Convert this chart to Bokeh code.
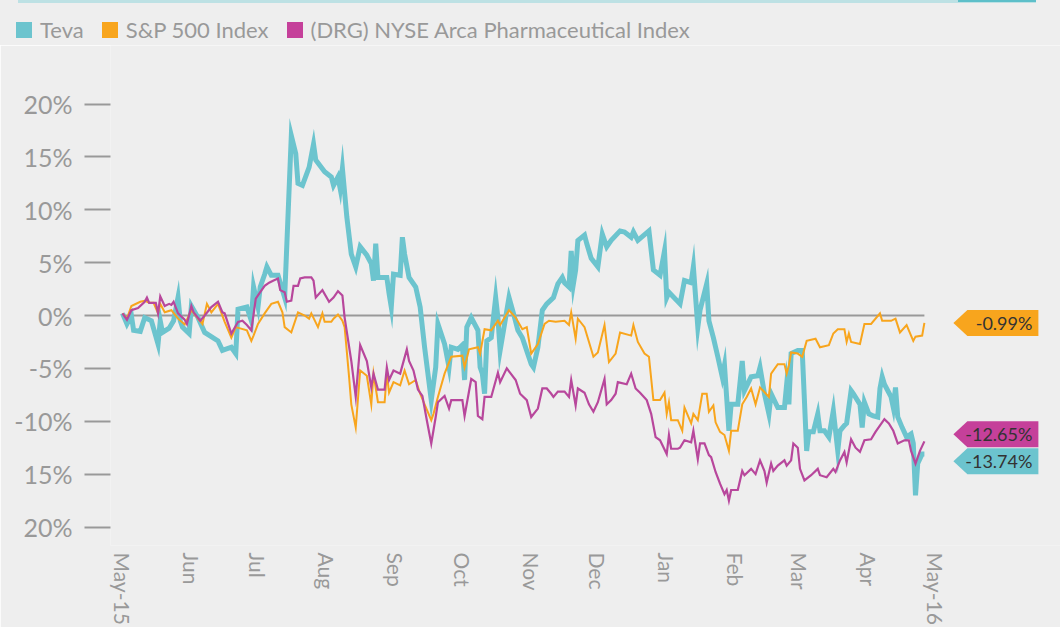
import math
from bokeh.plotting import figure
from bokeh.layouts import column
from bokeh.models import Range1d, FixedTicker, Div
from bokeh.core.properties import value
from bokeh.embed import file_html
from bokeh.resources import INLINE

# ---------------- data ----------------
# x = days since 2015-05-01, y = % change
teva_day = [0, 2, 4, 5, 8, 10, 13, 16, 17, 18,
            21, 23, 25, 26, 27, 30, 31, 34, 37, 43,
            45, 49, 51, 52, 56, 58, 59, 61, 62, 64,
            65, 67, 70, 72, 73, 76, 78, 79, 81, 84,
            86, 87, 91, 94, 95, 97, 98, 99, 101, 103,
            105, 107, 110, 112, 113, 114, 115, 119, 120, 121,
            122, 125, 126, 127, 129, 132, 134, 136, 139, 141,
            142, 145, 147, 148, 151, 153, 154, 155, 157, 160,
            161, 162, 163, 164, 166, 168, 169, 170, 174, 176,
            178, 180, 184, 185, 187, 189, 191, 194, 196, 198,
            199, 201, 202, 203, 204, 205, 208, 209, 211, 214,
            216, 218, 220, 224, 226, 229, 230, 232, 237, 239,
            242, 244, 245, 246, 251, 253, 256, 257, 259, 260,
            263, 264, 266, 268, 270, 271, 273, 274, 277, 279,
            280, 283, 286, 287, 289, 291, 292, 295, 298, 299,
            300, 301, 304, 306, 308, 309, 311, 313, 314, 316,
            318, 320, 322, 323, 325, 326, 328, 329, 332, 333,
            334, 336, 338, 340, 341, 342, 343, 346, 347, 348,
            349, 351, 353, 355, 356, 357, 358, 360, 361]
teva_pct = [0.2, -0.8, 0.0, -1.4, -1.5, -0.2, -0.5, -2.7, -0.5, -1.6,
            -1.2, -0.5, 1.7, -0.5, -1.1, -1.7, 0.9, -0.2, -1.6, -2.4,
            -3.3, -3.0, -3.6, 0.6, 0.8, -0.5, 2.7, 0.8, 2.7, 3.9,
            4.6, 3.8, 3.8, 2.4, 1.7, 17.0, 15.3, 12.5, 12.3, 14.0,
            16.2, 14.7, 13.6, 13.1, 12.3, 13.1, 12.0, 13.9, 9.3, 5.8,
            4.6, 6.5, 5.7, 4.9, 3.3, 6.8, 3.6, 3.6, 2.1, 0.8,
            3.9, 3.8, 7.4, 5.8, 3.6, 2.7, 0.8, -3.0, -8.0, -4.9,
            -0.8, -2.7, -4.9, -3.0, -3.2, -2.8, -6.1, -1.1, -0.2, -1.4,
            -4.9, -5.5, -7.4, -2.4, -2.1, 1.7, -0.2, -3.3, 1.7, 0.2,
            -1.4, -2.1, -4.6, -4.9, -3.0, 0.5, 1.1, 1.7, 3.0, 3.6,
            3.1, 2.7, 6.1, 3.0, 4.3, 7.1, 7.6, 6.8, 5.4, 4.6,
            7.7, 6.5, 7.1, 8.0, 7.9, 7.4, 7.9, 7.1, 8.0, 4.3,
            3.8, 6.1, 1.7, 2.2, 1.1, 3.3, 3.1, 4.6, -1.1, 0.5,
            3.0, -0.5, -2.1, -3.9, -5.8, -4.7, -10.9, -8.4, -8.4, -4.3,
            -7.1, -5.8, -5.7, -4.9, -7.4, -9.3, -7.4, -8.7, -8.7, -6.5,
            -8.4, -3.6, -3.3, -3.3, -12.8, -11.0, -11.0, -9.3, -10.9, -10.9,
            -11.5, -9.0, -12.8, -10.9, -10.4, -10.2, -7.1, -7.4, -8.4, -10.6,
            -8.2, -9.3, -9.5, -9.6, -6.9, -5.8, -6.5, -7.7, -8.7, -6.8,
            -9.6, -10.6, -11.5, -11.2, -12.1, -17.0, -14.0, -13.1, -13.1]

sp_day = [0, 2, 4, 8, 10, 12, 14, 16, 17, 19,
          22, 25, 28, 31, 34, 36, 38, 40, 43, 46,
          49, 51, 56, 58, 59, 61, 64, 67, 70, 72,
          73, 76, 79, 82, 84, 85, 88, 90, 91, 94,
          95, 97, 99, 100, 102, 103, 105, 107, 110, 112,
          113, 115, 118, 119, 120, 122, 125, 127, 129, 132,
          134, 136, 139, 140, 142, 145, 148, 153, 154, 156,
          160, 161, 163, 166, 169, 170, 174, 177, 180, 182,
          184, 187, 190, 192, 195, 199, 201, 202, 204, 205,
          208, 212, 214, 217, 219, 222, 224, 229, 230, 232,
          235, 237, 239, 242, 244, 245, 246, 247, 250, 252,
          253, 256, 257, 259, 261, 263, 264, 266, 267, 269,
          271, 273, 274, 277, 279, 281, 283, 285, 287, 291,
          292, 295, 298, 299, 300, 301, 304, 306, 308, 312,
          314, 318, 320, 322, 325, 326, 327, 328, 332, 334,
          337, 341, 342, 346, 348, 350, 353, 356, 357, 360,
          361]
sp_pct = [0.2, -0.3, 0.9, 1.3, 1.4, 1.2, 1.2, 0.2, 1.1, 0.3,
          0.5, -0.3, -0.85, 0.5, -0.3, -0.8, 1.1, 0.3, 1.1, -0.6,
          -2.1, -1.1, -1.4, -2.4, -1.9, -0.8, 0.2, 1.1, 1.3, 0.3,
          -1.1, -1.6, 0.3, 0.0, -0.3, 0.2, -1.1, 0.2, -0.6, -0.6,
          -0.3, 0.1, -0.5, -1.1, -5.8, -8.4, -10.6, -5.2, -5.7, -8.4,
          -5.5, -8.2, -8.2, -5.5, -7.3, -6.3, -6.6, -5.2, -6.5, -6.1,
          -7.4, -8.4, -9.9, -9.3, -7.7, -5.5, -3.9, -3.8, -4.9, -3.2,
          -3.0, -3.6, -1.3, -1.4, -0.5, -0.9, 0.5, -0.2, -1.3, -1.1,
          -3.6, -2.7, -0.8, -0.5, -0.6, -0.5, -0.9, 0.3, -2.2, -0.3,
          -1.1, -3.9, -3.5, -0.9, -4.4, -3.6, -1.6, -1.9, -0.9, -2.5,
          -3.6, -3.9, -8.0, -8.0, -7.3, -9.3, -8.2, -9.9, -9.9, -10.9,
          -8.7, -10.2, -9.3, -9.9, -7.4, -7.4, -9.1, -8.5, -10.1, -11.0,
          -11.3, -12.8, -10.9, -10.9, -8.4, -7.7, -6.9, -8.4, -6.8, -7.7,
          -5.5, -4.6, -4.6, -5.5, -4.7, -3.5, -3.6, -3.9, -2.4, -2.2,
          -3.0, -2.8, -1.7, -1.3, -1.3, -2.5, -1.7, -2.5, -2.7, -0.8,
          -0.8, 0.2, -0.5, -0.5, -0.3, -1.6, -0.9, -2.4, -2.0, -1.9,
          -0.7]

drg_day = [0, 2, 4, 7, 10, 11, 12, 15, 16, 17,
           19, 21, 22, 23, 25, 28, 29, 31, 32, 35,
           37, 40, 43, 45, 46, 49, 52, 54, 56, 58,
           60, 62, 64, 66, 68, 70, 71, 73, 74, 76,
           77, 79, 80, 82, 85, 86, 87, 90, 93, 95,
           97, 99, 100, 103, 105, 107, 110, 112, 113, 115,
           118, 119, 120, 122, 125, 128, 129, 131, 133, 135,
           137, 139, 141, 142, 145, 147, 148, 153, 154, 157,
           159, 160, 162, 163, 166, 169, 170, 173, 177, 179,
           182, 184, 187, 189, 191, 193, 194, 196, 199, 201,
           202, 204, 205, 208, 210, 212, 214, 217, 218, 220,
           222, 223, 227, 229, 231, 233, 236, 238, 240, 242,
           245, 246, 247, 250, 251, 253, 256, 257, 259, 260,
           262, 264, 265, 267, 269, 271, 272, 273, 274, 277,
           279, 280, 283, 285, 287, 289, 290, 292, 293, 295,
           298, 299, 301, 302, 304, 305, 307, 310, 313, 314,
           317, 320, 321, 323, 325, 326, 328, 330, 332, 334,
           337, 339, 343, 345, 347, 349, 352, 354, 355, 357,
           359, 361]
drg_pct = [0.2, -0.4, 0.5, 0.7, 1.3, 1.7, 1.2, 1.2, 0.2, 1.8,
           0.9, 1.1, 1.0, 1.3, 0.2, -0.4, -0.8, 0.9, 0.3, -0.5,
           0.0, 0.8, 1.3, 0.3, 0.2, -1.7, -0.6, -0.5, -0.9, -1.4,
           1.6, 2.2, 2.8, 3.1, 3.3, 3.5, 2.4, 2.2, 1.3, 1.4,
           2.8, 2.8, 3.5, 3.6, 3.6, 3.3, 1.7, 2.4, 1.3, 1.7,
           2.3, 1.9, -0.2, -4.3, -7.7, -2.8, -4.3, -6.8, -5.5, -7.0,
           -7.0, -4.9, -6.1, -5.2, -5.5, -3.2, -4.3, -5.2, -7.0, -7.6,
           -9.9, -12.1, -9.6, -8.2, -7.6, -8.8, -8.0, -8.0, -9.5, -6.0,
           -6.3, -9.5, -9.8, -7.7, -7.7, -5.4, -6.3, -5.0, -6.1, -7.4,
           -8.0, -9.6, -8.8, -6.9, -6.9, -7.4, -7.7, -7.2, -7.2, -7.7,
           -6.1, -8.5, -6.9, -7.3, -8.4, -9.1, -8.2, -6.0, -8.4, -8.0,
           -7.4, -6.3, -6.5, -5.5, -6.9, -7.3, -8.0, -9.3, -11.5, -11.8,
           -13.1, -11.3, -12.6, -12.6, -12.5, -11.8, -12.0, -10.9, -13.6, -12.1,
           -12.1, -13.2, -13.4, -14.8, -15.9, -16.9, -16.5, -17.5, -16.5, -16.5,
           -14.7, -15.1, -14.5, -15.0, -13.7, -14.7, -15.8, -14.0, -14.7, -14.2,
           -13.7, -14.2, -13.7, -12.1, -12.5, -14.5, -15.6, -15.1, -14.5, -15.1,
           -15.3, -14.5, -14.8, -13.7, -12.9, -13.9, -11.7, -12.5, -12.9, -11.8,
           -11.7, -11.0, -9.8, -10.2, -10.9, -12.1, -11.8, -11.8, -12.8, -14.0,
           -12.8, -11.9]

series_names = ["Teva", "S&P 500 Index", "(DRG) NYSE Arca Pharmaceutical Index"]
end_labels = ["-13.74%", "-0.99%", "-12.65%"]

month_ticks = [0, 31, 61, 92, 123, 153, 184, 214, 245, 276, 305, 336, 366]
month_labels = ["May-15", "Jun", "Jul", "Aug", "Sep", "Oct", "Nov", "Dec",
                "Jan", "Feb", "Mar", "Apr", "May-16"]
y_ticks = [20, 15, 10, 5, 0, -5, -10, -15, -20]
y_tick_labels = ["20%", "15%", "10%", "5%", "0%", "-5%", "-10%", "15%", "20%"]

# ---------------- style ----------------
BG = "#eeeeee"
GREY = "#999999"
TEAL = "#6cc4ce"
ORANGE = "#f8a51d"
MAGENTA_LINE = "#b8479c"
MAGENTA = "#c5409a"
FONT = "Lato"

W = 1060
LEG_H = 45
H = 627 - LEG_H
B_LEFT, B_RIGHT, B_TOP, B_BOTTOM = 110, 0, 0, 82
FRAME_W = W - B_LEFT - B_RIGHT
FRAME_H = H - B_TOP - B_BOTTOM
PX_DAY = 2.2213
PX_PCT = 10.575
X_START = -12 / PX_DAY
X_END = X_START + FRAME_W / PX_DAY
Y_END = (315 - LEG_H) / PX_PCT
Y_START = Y_END - FRAME_H / PX_PCT

# ---------------- legend strip (HTML) ----------------
legend_parts = []
for name, col in zip(series_names, [TEAL, ORANGE, MAGENTA]):
    legend_parts.append(
        '<span style="display:inline-flex;align-items:center;margin-right:18px;">'
        f'<span style="display:inline-block;width:16px;height:16px;background:{col};'
        'margin-right:8px;"></span>'
        f'<span>{name.replace("&", "&amp;")}</span></span>')
legend_html = (
    f'<div style="position:relative;width:{W}px;height:{LEG_H}px;background:{BG};'
    f'font-family:{FONT},sans-serif;font-size:22px;color:{GREY};">'
    '<div style="position:absolute;left:18px;top:0;width:1018px;height:3px;background:#bde1e4;"></div>'
    '<div style="position:absolute;left:958px;top:0;width:78px;height:2px;background:#5dbfc9;"></div>'
    '<div style="position:absolute;left:16px;top:17px;height:26px;display:flex;'
    'align-items:center;white-space:nowrap;line-height:26px;">'
    + "".join(legend_parts) +
    '</div></div>')
legend_div = Div(text=legend_html, width=W, height=LEG_H, margin=(0, 0, 0, 0),
                 styles={"background-color": BG})

# ---------------- main chart ----------------
p = figure(width=W, height=H, output_backend="svg", toolbar_location=None,
           x_range=Range1d(X_START, X_END), y_range=Range1d(Y_START, Y_END),
           min_border_left=B_LEFT, min_border_right=B_RIGHT,
           min_border_top=B_TOP, min_border_bottom=B_BOTTOM,
           background_fill_color=BG, border_fill_color=BG,
           outline_line_color=None, margin=(0, 0, 0, 0))
p.xgrid.visible = False
p.ygrid.visible = False

p.yaxis.ticker = FixedTicker(ticks=y_ticks)
p.yaxis.major_label_overrides = {t: l for t, l in zip(y_ticks, y_tick_labels)}
p.yaxis.axis_line_color = None
p.yaxis.major_tick_line_color = GREY
p.yaxis.major_tick_line_width = 2
p.yaxis.major_tick_out = 26
p.yaxis.major_tick_in = 0
p.yaxis.minor_tick_line_color = None
p.yaxis.major_label_standoff = 12
p.yaxis.major_label_text_font = FONT
p.yaxis.major_label_text_font_size = "25px"
p.yaxis.major_label_text_color = GREY

p.xaxis.ticker = FixedTicker(ticks=month_ticks)
p.xaxis.major_label_overrides = {t: l for t, l in zip(month_ticks, month_labels)}
p.xaxis.major_label_orientation = "vertical"
p.xaxis.axis_line_color = None
p.xaxis.major_tick_line_color = None
p.xaxis.major_tick_out = 0
p.xaxis.major_tick_in = 0
p.xaxis.minor_tick_line_color = None
p.xaxis.major_label_standoff = 7
p.xaxis.major_label_text_font = FONT
p.xaxis.major_label_text_font_size = "21px"
p.xaxis.major_label_text_color = GREY

# zero line across the data span
p.line(x=[teva_day[0], teva_day[-1]], y=[0, 0], line_color=GREY, line_width=2)

# series
p.line(teva_day, teva_pct, line_color=TEAL, line_width=5, line_join="miter")
p.line(sp_day, sp_pct, line_color=ORANGE, line_width=2, line_join="miter")
p.line(drg_day, drg_pct, line_color=MAGENTA_LINE, line_width=2.2, line_join="miter")

# end-value tags (arrow shaped) with simple collision avoidance
last_day = max(teva_day[-1], sp_day[-1], drg_day[-1])
ends = [teva_pct[-1], sp_pct[-1], drg_pct[-1]]
tag_colors = [TEAL, ORANGE, MAGENTA]
min_gap = 27 / PX_PCT
order = sorted(range(3), key=lambda i: ends[i], reverse=True)
pos = [ends[i] for i in order]
for _ in range(30):
    for k in range(len(pos) - 1):
        gap = pos[k] - pos[k + 1]
        if gap < min_gap:
            s = (min_gap - gap) / 2
            pos[k] += s
            pos[k + 1] -= s
tag_y = [0.0] * 3
for k, i in enumerate(order):
    tag_y[i] = pos[k]

tip_x = last_day + 29 / PX_DAY
body_x0 = tip_x + 14 / PX_DAY
body_x1 = body_x0 + 71 / PX_DAY
hh = 13 / PX_PCT
xs = [[tip_x, body_x0, body_x1, body_x1, body_x0] for _ in tag_y]
ys = [[y, y + hh, y + hh, y - hh, y - hh] for y in tag_y]
p.patches(xs, ys, fill_color=tag_colors, line_color=None)
p.text(x=[body_x1 - 6 / PX_DAY] * 3, y=tag_y, text=end_labels,
       text_align="right", text_baseline="middle",
       text_font=value(FONT), text_font_size="18px", text_color="#333333")

layout = column(legend_div, p, spacing=0, margin=(0, 0, 0, 0))
open("out.html", "w").write(file_html(layout, INLINE))
